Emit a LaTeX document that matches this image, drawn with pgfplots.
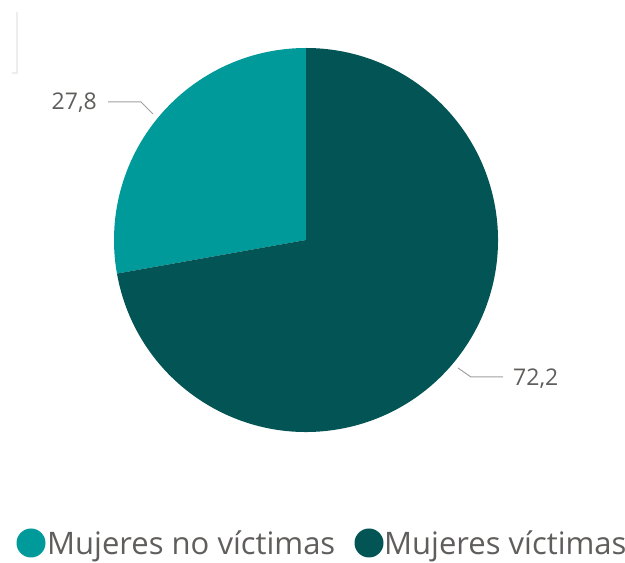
\documentclass[border=0pt]{standalone}
\usepackage{pgfplots}
\pgfplotsset{compat=1.18}
\usepackage{pgfplotstable}
\usepackage{fontspec}
\setmainfont{Open Sans}
\definecolor{noVict}{HTML}{019A9A}
\definecolor{vict}{HTML}{035454}
\definecolor{lbl}{HTML}{605E5C}
\definecolor{lead}{HTML}{A0A0A0}

\pgfplotstableread[col sep=comma]{
grupo,valor
nov,27.8
vic,72.2
}\datos

\begin{document}
\begin{tikzpicture}
\pgfplotstablegetelem{0}{valor}\of\datos \let\vA\pgfplotsretval
\pgfplotstablegetelem{1}{valor}\of\datos \let\vB\pgfplotsretval
\pgfmathsetmacro{\aEnd}{90+3.6*\vA}
\begin{axis}[
  at={(0,0)}, anchor=south west,
  scale only axis, width=625pt, height=563pt,
  xmin=0, xmax=625, ymin=0, ymax=563,
  hide axis, clip=false,
]
% faint frame fragment top-left
\draw[black!7, line width=1.2pt] (axis cs:17,551) -- (axis cs:17,490) -- (axis cs:12,490);
% slices
\fill[noVict] (axis cs:306,323) -- ++(90:192pt) arc[start angle=90, end angle=\aEnd, radius=192pt] -- cycle;
\fill[vict] (axis cs:306,323) -- ++(\aEnd:192pt) arc[start angle=\aEnd, end angle=450, radius=192pt] -- cycle;
% leader lines and labels
\draw[lead, line width=1pt] (axis cs:153,449) -- (axis cs:141,461) -- (axis cs:108,461);
\node[lbl, anchor=east, font=\fontsize{23}{26}\selectfont, inner sep=0pt] at (axis cs:97,460) {27,8};
\draw[lead, line width=1pt] (axis cs:458,195) -- (axis cs:471,186) -- (axis cs:503,186);
\node[lbl, anchor=west, font=\fontsize{23}{26}\selectfont, inner sep=0pt] at (axis cs:513,184) {72,2};
% legend
\fill[noVict] (axis cs:31,20) circle[radius=14.5pt];
\node[lbl, anchor=base west, font=\fontsize{31}{34}\selectfont, inner sep=0pt] at (axis cs:47,8) {Mujeres no víctimas};
\fill[vict] (axis cs:369,20) circle[radius=14.5pt];
\node[lbl, anchor=base west, font=\fontsize{31}{34}\selectfont, inner sep=0pt] at (axis cs:384,8) {Mujeres víctimas};
\end{axis}
\pgfresetboundingbox
\path (0,0) rectangle (625pt,563pt);
\end{tikzpicture}
\end{document}
